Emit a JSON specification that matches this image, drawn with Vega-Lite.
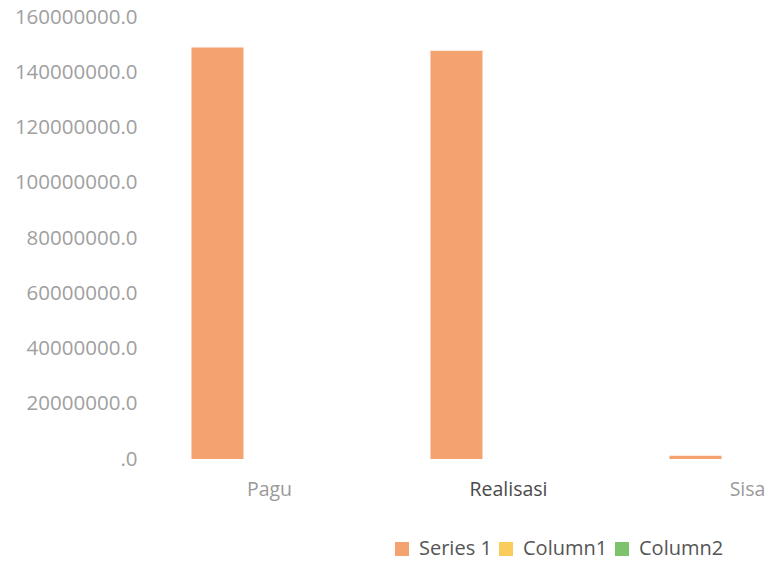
{
  "$schema": "https://vega.github.io/schema/vega-lite/v6.json",
  "autosize": "none",
  "width": 620,
  "height": 442,
  "padding": {"left": 150, "top": 17, "right": 0, "bottom": 103},
  "background": "white",
  "config": {
    "view": {"stroke": null},
    "font": "Open Sans"
  },
  "data": {
    "values": [
      {"kategori": "Pagu", "seri": "Series 1", "nilai": 149000000},
      {"kategori": "Pagu", "seri": "Column1", "nilai": 0},
      {"kategori": "Pagu", "seri": "Column2", "nilai": 0},
      {"kategori": "Realisasi", "seri": "Series 1", "nilai": 147800000},
      {"kategori": "Realisasi", "seri": "Column1", "nilai": 0},
      {"kategori": "Realisasi", "seri": "Column2", "nilai": 0},
      {"kategori": "Sisa", "seri": "Series 1", "nilai": 1200000},
      {"kategori": "Sisa", "seri": "Column1", "nilai": 0},
      {"kategori": "Sisa", "seri": "Column2", "nilai": 0}
    ]
  },
  "mark": {"type": "bar"},
  "encoding": {
    "x": {
      "field": "kategori",
      "type": "nominal",
      "sort": ["Pagu", "Realisasi", "Sisa"],
      "scale": {"range": [0, 717], "paddingInner": 0.347, "paddingOuter": 0.1735},
      "axis": {
        "title": null,
        "labelAngle": 0,
        "domain": false,
        "ticks": false,
        "labelPadding": 21,
        "labelFont": "Open Sans",
        "labelFontSize": 19.5,
        "labelColor": {"expr": "datum.value == 'Realisasi' ? '#4a4a4a' : '#9a9a9a'"}
      }
    },
    "xOffset": {
      "field": "seri",
      "type": "nominal",
      "sort": ["Series 1", "Column1", "Column2"],
      "scale": {"paddingInner": 0, "paddingOuter": 0}
    },
    "y": {
      "field": "nilai",
      "type": "quantitative",
      "scale": {"domain": [0, 160000000]},
      "axis": {
        "title": null,
        "values": [0, 20000000, 40000000, 60000000, 80000000, 100000000, 120000000, 140000000, 160000000],
        "labelExpr": "datum.value == 0 ? '.0' : format(datum.value, '.1f')",
        "grid": false,
        "domain": false,
        "ticks": false,
        "offset": 0,
        "labelPadding": 13,
        "labelFont": "Open Sans",
        "labelFontSize": 20.5,
        "labelColor": "#a0a0a0"
      }
    },
    "color": {
      "field": "seri",
      "type": "nominal",
      "sort": ["Series 1", "Column1", "Column2"],
      "scale": {
        "domain": ["Series 1", "Column1", "Column2"],
        "range": ["#F5A271", "#F9CC5C", "#7DC36C"]
      },
      "legend": {
        "title": null,
        "orient": "none",
        "direction": "horizontal",
        "legendX": 242,
        "legendY": 522,
        "symbolType": "square",
        "symbolSize": 196,
        "symbolStrokeWidth": 0,
        "labelFont": "Open Sans",
        "labelFontSize": 20,
        "labelColor": "#555555",
        "labelOffset": 7,
        "columnPadding": 4
      }
    }
  }
}
